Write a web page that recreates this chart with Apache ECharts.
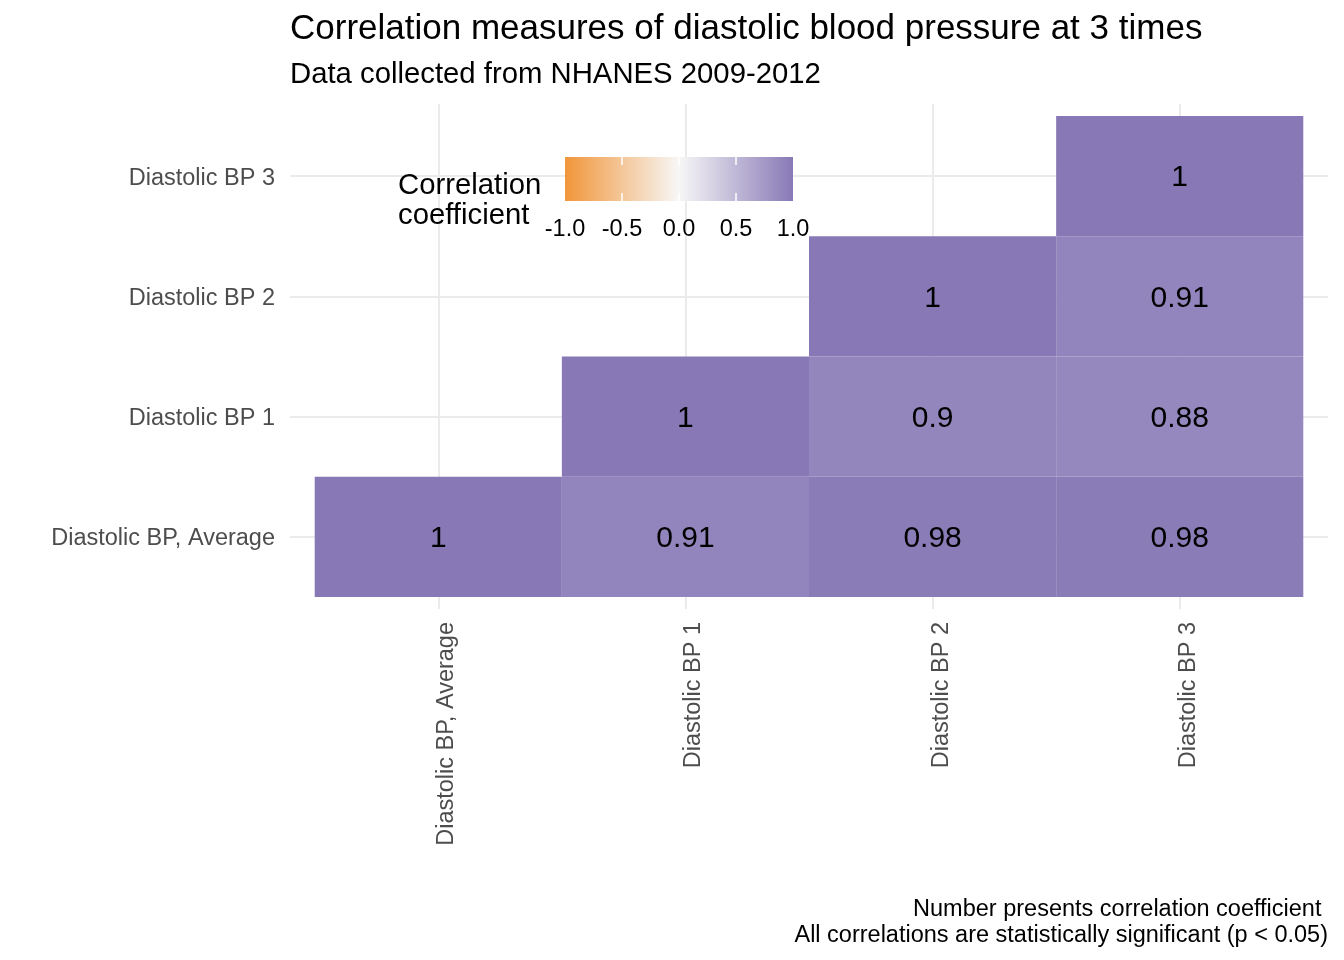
<!DOCTYPE html>
<html>
<head>
<meta charset="utf-8">
<script src="https://cdn.jsdelivr.net/npm/echarts@6/dist/echarts.min.js"></script>
<style>html,body{margin:0;padding:0;background:#fff;}#chart{width:1344px;height:960px;}</style>
</head>
<body>
<div id="chart"></div>
<script>
// ---- data ----
const categories = ["Diastolic BP, Average", "Diastolic BP 1", "Diastolic BP 2", "Diastolic BP 3"];
// correlation of each row variable (y) with the column variables (x); null = not shown
const rowAverage = [1, 0.91, 0.98, 0.98];
const rowBP1 = [null, 1, 0.9, 0.88];
const rowBP2 = [null, null, 1, 0.91];
const rowBP3 = [null, null, null, 1];
const legendTicks = [-1, -0.5, 0, 0.5, 1];
const legendInnerTicks = [-0.5, 0, 0.5];
const titleText = "Correlation measures of diastolic blood pressure at 3 times";
const subtitleText = "Data collected from NHANES 2009-2012";
const captionText = "Number presents correlation coefficient \nAll correlations are statistically significant (p < 0.05)";
const legendTitle = "Correlation\ncoefficient";

const rows = [rowAverage, rowBP1, rowBP2, rowBP3];
const cells = [];
rows.forEach((row, yi) => row.forEach((v, xi) => { if (v !== null) cells.push([xi, yi, v]); }));

const FONT = "'Liberation Sans', Arial, Helvetica, sans-serif";
const colLow = '#F1963A', colMid = '#F7F7F7', colHigh = '#8879B6';
const isInt = v => Math.abs(v - Math.round(v)) < 1e-6;

const chart = echarts.init(document.getElementById('chart'));
chart.setOption({
  backgroundColor: '#ffffff',
  animation: false,
  title: [
    { text: titleText, left: 290, top: 8, padding: 0,
      textStyle: { fontFamily: FONT, fontSize: 35, fontWeight: 'normal', color: '#000', lineHeight: 42 } },
    { text: subtitleText, left: 290, top: 57, padding: 0,
      textStyle: { fontFamily: FONT, fontSize: 29.3, fontWeight: 'normal', color: '#000', lineHeight: 36 } }
  ],
  grid: [
    { left: 290, right: 16, top: 104, height: 505, containLabel: false },
    { left: 565, top: 157, width: 228, height: 44, show: false }
  ],
  xAxis: [
    { type: 'value', gridIndex: 0, min: -0.6, max: 3.6, splitNumber: 4,
      axisLine: { show: false }, axisTick: { show: false },
      splitLine: { show: true, showMinLine: false, showMaxLine: false, lineStyle: { color: '#EBEBEB', width: 2 } },
      axisLabel: { show: true, rotate: 90, margin: 13, showMinLabel: false, showMaxLabel: false,
        verticalAlign: 'top', lineHeight: 17,
        fontFamily: FONT, fontSize: 23.5, color: '#4D4D4D',
        formatter: v => isInt(v) && categories[Math.round(v)] ? categories[Math.round(v)] : '' } },
    { type: 'value', gridIndex: 1, min: -1, max: 1, interval: 0.5, position: 'bottom', z: 20,
      axisLine: { show: false },
      axisTick: { show: true, inside: true, length: 8, customValues: legendInnerTicks,
        lineStyle: { color: '#ffffff', width: 1.5 } },
      splitLine: { show: false },
      axisLabel: { show: true, margin: 17, fontFamily: FONT, fontSize: 23.5, color: '#000',
        customValues: legendTicks,
        formatter: v => Number(v).toFixed(1) } },
    { type: 'value', gridIndex: 1, min: -1, max: 1, interval: 0.5, position: 'top', z: 20,
      axisLine: { show: false },
      axisTick: { show: true, inside: true, length: 8, customValues: legendInnerTicks,
        lineStyle: { color: '#ffffff', width: 1.5 } },
      splitLine: { show: false }, axisLabel: { show: false } }
  ],
  yAxis: [
    { type: 'value', gridIndex: 0, min: -0.6, max: 3.6, splitNumber: 4,
      axisLine: { show: false }, axisTick: { show: false },
      splitLine: { show: true, showMinLine: false, showMaxLine: false, lineStyle: { color: '#EBEBEB', width: 2 } },
      axisLabel: { show: true, margin: 15, showMinLabel: false, showMaxLabel: false,
        verticalAlign: 'top', lineHeight: 4,
        fontFamily: FONT, fontSize: 23.5, color: '#4D4D4D',
        formatter: v => isInt(v) && categories[Math.round(v)] ? categories[Math.round(v)] : '' } },
    { type: 'value', gridIndex: 1, min: 0, max: 1, show: false }
  ],
  visualMap: {
    type: 'continuous', show: false, min: -1, max: 1, dimension: 2, seriesIndex: 0,
    inRange: { color: [colLow, colMid, colHigh] }
  },
  graphic: [
    { type: 'rect', z: 15, shape: { x: 565, y: 157, width: 228, height: 44 },
      style: { fill: { type: 'linear', x: 0, y: 0, x2: 1, y2: 0,
        colorStops: [{ offset: 0, color: colLow }, { offset: 0.5, color: colMid }, { offset: 1, color: colHigh }] } } },
    { type: 'text', z: 15, x: 398, y: 201,
      style: { text: legendTitle, fontFamily: FONT, fontSize: 29.3, fill: '#000', lineHeight: 30,
        align: 'left', verticalAlign: 'middle' } },
    { type: 'text', z: 15, x: 1328, y: 923,
      style: { text: captionText, fontFamily: FONT, fontSize: 23.5, fill: '#000', lineHeight: 26,
        align: 'right', verticalAlign: 'middle' } }
  ],
  series: [
    {
      type: 'custom', xAxisIndex: 0, yAxisIndex: 0, data: cells, z: 5,
      encode: { x: 0, y: 1 },
      renderItem: function (params, api) {
        const c = api.coord([api.value(0), api.value(1)]);
        const s = api.size([1, 1]);
        const v = api.value(2);
        return {
          type: 'group',
          children: [
            { type: 'rect', shape: { x: c[0] - s[0] / 2, y: c[1] - s[1] / 2, width: s[0], height: s[1] },
              style: { fill: api.visual('color') } },
            { type: 'text', style: { text: String(v), x: c[0], y: c[1] + 2, align: 'center', verticalAlign: 'middle',
              fontFamily: FONT, fontSize: 30, fill: '#000' } }
          ]
        };
      }
    }
  ]
});
</script>
</body>
</html>
